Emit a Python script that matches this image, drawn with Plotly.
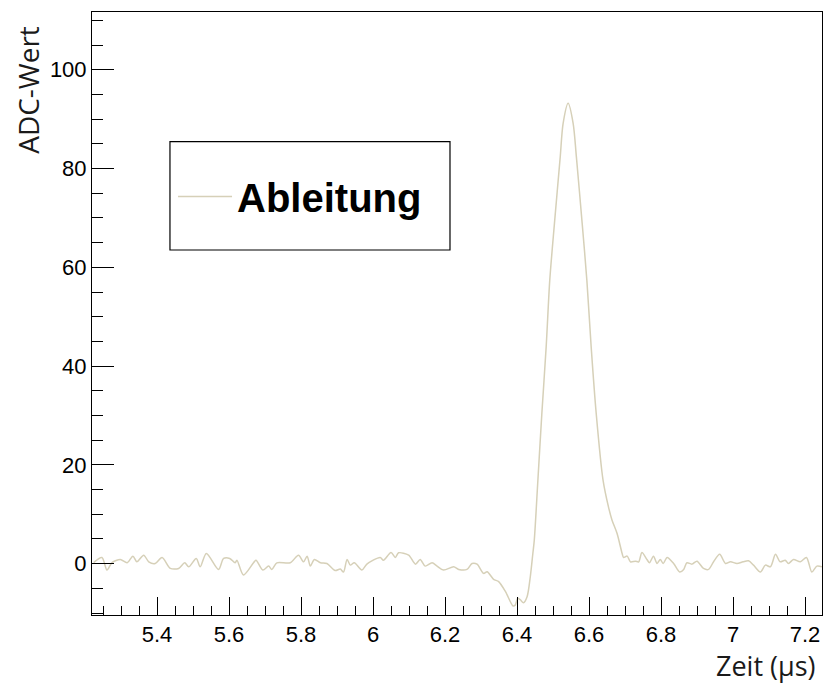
import plotly.graph_objects as go

# time (µs) and derivative ADC value
t = [5.224, 5.247, 5.261, 5.275, 5.298, 5.317, 5.333, 5.344, 5.363, 5.377,
     5.395, 5.414, 5.437, 5.460, 5.477, 5.488, 5.509, 5.520, 5.537, 5.571,
     5.585, 5.602, 5.617, 5.622, 5.640, 5.668, 5.675, 5.694, 5.710, 5.719,
     5.733, 5.770, 5.793, 5.807, 5.817, 5.826, 5.837, 5.854, 5.872, 5.895,
     5.909, 5.918, 5.928, 5.937, 5.948, 5.969, 5.983, 6.020, 6.029, 6.050,
     6.062, 6.071, 6.099, 6.118, 6.131, 6.145, 6.164, 6.178, 6.196, 6.224,
     6.238, 6.261, 6.275, 6.289, 6.307, 6.317, 6.335, 6.349, 6.368, 6.389,
     6.395, 6.402, 6.409, 6.418, 6.428, 6.437, 6.444, 6.448, 6.458, 6.469,
     6.481, 6.491, 6.504, 6.520, 6.528, 6.542, 6.556, 6.565, 6.581, 6.594,
     6.606, 6.620, 6.639, 6.654, 6.664, 6.678, 6.692, 6.696, 6.706, 6.715,
     6.729, 6.738, 6.747, 6.761, 6.768, 6.779, 6.789, 6.798, 6.806, 6.817,
     6.835, 6.852, 6.863, 6.872, 6.886, 6.900, 6.918, 6.932, 6.946, 6.963,
     6.979, 6.993, 7.011, 7.028, 7.043, 7.057, 7.076, 7.090, 7.104, 7.118,
     7.131, 7.145, 7.154, 7.168, 7.187, 7.204, 7.219, 7.233, 7.247]
adc = [0.2, 1.25, -1.3, 0.2, 0.84, 0.17, 1.52, 0.37, 1.72, 0.37,
       0.03, 1.25, -0.97, -0.97, 0.17, -0.64, 1.05, -0.64, 2.06, -1.17,
       1.05, 1.05, 0.17, 0.7, -2.3, 0.17, 0.7, -1.3, -0.5, -1.17,
       0.17, 0.17, 1.72, 0.37, 1.52, -0.5, 0.84, 0.17, 0.03, -1.4,
       -1.1, -1.7, 0.84, -0.3, 0.17, -1.3, -0.1, 1.25, 0.7, 2.26,
       1.25, 2.19, 1.72, -0.1, 0.84, -0.5, 0.17, -0.5, -1.3, -0.64,
       -1.17, -1.17, 0.03, -0.1, -1.97, -1.64, -3.17, -3.64, -5.67, -8.57,
       -8.4, -7.0, -7.3, -7.9, -6.7, -2.6, 2.06, 4.76, 16.9, 30.4,
       43.9, 57.4, 68.9, 82.3, 89.1, 93.2, 89.1, 82.3, 68.9, 57.4,
       43.9, 30.4, 16.9, 11.5, 8.8, 6.1, 2.06, 1.25, 1.52, 0.37,
       0.5, 0.37, 2.26, 0.84, 0.17, 1.52, 0.03, 0.84, 0.03, 1.25,
       0.03, -1.7, -1.17, 0.17, -0.1, 0.5, -0.97, -1.17, 0.37, 1.9,
       0.03, 0.37, 0.03, 0.37, 0.57, -0.3, -1.7, -0.3, -0.64, 1.9,
       0.37, 0.7, 0.03, 0.84, 0.37, 1.25, -1.7, -0.5, -0.64]

series_name = "Ableitung"
x_title = "Zeit (µs)"
y_title = "ADC-Wert"
line_color = "rgb(214,208,184)"

fig = go.Figure()
fig.add_trace(go.Scatter(x=t, y=adc, mode="lines", name=series_name,
                         line=dict(color=line_color, width=1.5, shape="spline", smoothing=0.8)))

tickfont = dict(family="Liberation Sans, Arial, sans-serif", size=22, color="black")
fig.update_layout(
    width=826, height=686,
    margin=dict(l=92, r=4, t=12, b=71),
    paper_bgcolor="white", plot_bgcolor="white",
    showlegend=True,
    legend=dict(x=0.111, y=0.694, xanchor="left", yanchor="middle",
                bgcolor="rgba(0,0,0,0)", borderwidth=0, itemwidth=54,
                font=dict(family="Liberation Sans, Arial, sans-serif", size=40,
                          color="black", weight="bold")),
    xaxis=dict(range=[5.2194, 7.2472], dtick=0.2, tick0=0, ticks="inside",
               ticklen=18, tickwidth=1, tickcolor="black",
               minor=dict(dtick=0.05, ticks="inside", ticklen=9, tickcolor="black"),
               showline=True, linecolor="black", linewidth=1, mirror=True,
               showgrid=False, zeroline=False, tickfont=tickfont),
    yaxis=dict(range=[-10.4, 111.7], dtick=20, tick0=0, ticks="inside",
               ticklen=22, tickwidth=1, tickcolor="black",
               minor=dict(dtick=5, ticks="inside", ticklen=11, tickcolor="black"),
               showline=True, linecolor="black", linewidth=1, mirror=True,
               showgrid=False, zeroline=False, tickfont=tickfont),
    shapes=[dict(type="rect", xref="paper", yref="paper",
                 x0=0.1068, x1=0.4904, y0=0.6053, y1=0.785,
                 line=dict(color="black", width=1.2), fillcolor="white", layer="below")],
    annotations=[
        dict(text=y_title, xref="paper", yref="paper", x=-0.088, y=0.98,
             xanchor="center", yanchor="top", textangle=-90, showarrow=False,
             font=dict(family="Open Sans, sans-serif", size=28, color="#1a1a1a")),
        dict(text=x_title, xref="paper", yref="paper", x=0.9945, y=-0.083,
             xanchor="right", yanchor="middle", showarrow=False,
             font=dict(family="Open Sans, sans-serif", size=27, color="#1a1a1a")),
    ],
)

fig.write_html("out.html", config={"displayModeBar": False},
               post_script="document.body.style.margin='0';")
